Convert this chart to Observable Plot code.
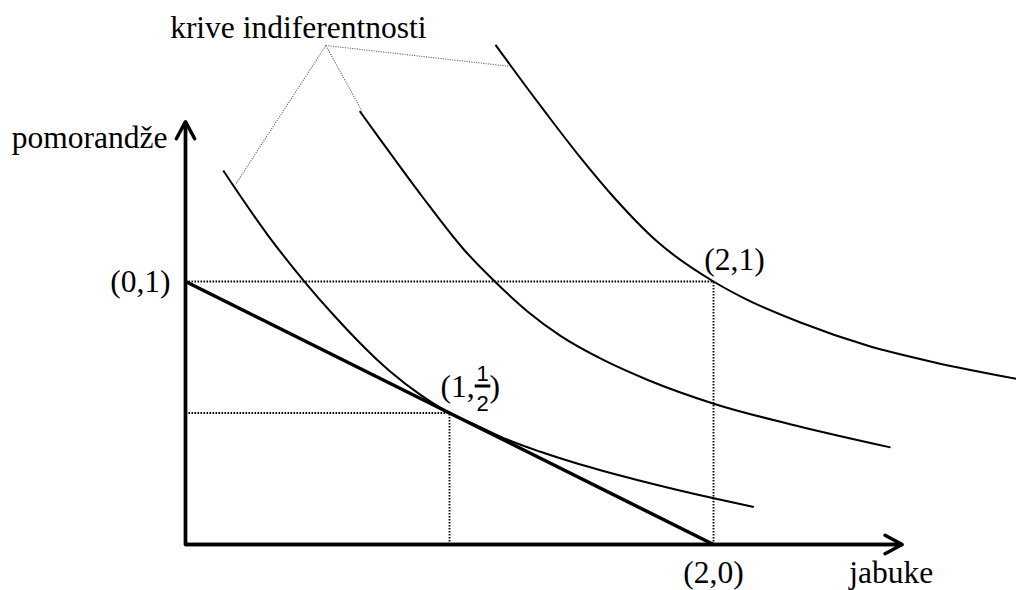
<!DOCTYPE html>
<html>
<head>
<meta charset="utf-8">
<script src="https://cdn.jsdelivr.net/npm/d3@7"></script>
<script src="https://cdn.jsdelivr.net/npm/@observablehq/plot@0.6"></script>
<style>
  html, body { margin: 0; padding: 0; background: #fff; }
  #chart svg { display: block; }
</style>
</head>
<body>
<div id="chart"></div>
<script>
// ---------- data ----------
// indifference curve 1 (tangent to the budget line at (1, 1/2))
const ic1X = [0.1428, 0.3095, 0.4481, 0.5617, 0.7197, 0.7765, 0.8902, 1.0, 1.1098, 1.2186, 1.3447, 1.4708, 1.5720, 1.7110, 2.0011, 2.1527];
const ic1Y = [1.4221, 1.1795, 1.0027, 0.8715, 0.7082, 0.6567, 0.5688, 0.5, 0.4494, 0.3992, 0.3525, 0.3118, 0.2825, 0.2456, 0.1757, 0.1422];
// indifference curve 2
const ic2X = [0.6602, 0.7386, 0.8966, 1.0542, 1.1678, 1.2943, 1.4205, 1.5845, 1.7489, 2.0011, 2.3295, 2.6705];
const ic2Y = [1.6475, 1.5388, 1.3232, 1.1217, 1.0038, 0.8871, 0.7932, 0.7008, 0.6266, 0.5354, 0.4479, 0.3692];
// indifference curve 3 (through (2, 1))
const ic3X = [1.1742, 1.2311, 1.3701, 1.4962, 1.6223, 1.7867, 2.0, 2.1148, 2.3295, 2.5822, 2.8345, 3.1477];
const ic3Y = [1.9000, 1.8213, 1.6342, 1.4707, 1.3202, 1.1517, 1.0, 0.9369, 0.8441, 0.7567, 0.6932, 0.6300];

// budget line
const budgetX = [0, 2];
const budgetY = [1, 0];

// axis extents (arrow tips)
const axisTipX = 2.715;
const axisTipY = 1.608;
const axisXLabel = "jabuke";
const axisYLabel = "pomorandže";

// labelled points
const pointX = [0, 2, 2];
const pointY = [1, 1, 0];
const pointLabels = ["(0,1)", "(2,1)", "(2,0)"];
// tangency point (1, 1/2)
const tangentX = 1;
const tangentY = 0.5;
const tangentLabel = ["(1,", "1", "2", ")"];

// annotation "krive indiferentnosti" with leader lines to each curve
const annotationText = "krive indiferentnosti";
const leaderApex = [0.5314, 1.8973];
const leaderEndX = [0.1894, 0.6693, 1.2235];
const leaderEndY = [1.3688, 1.6464, 1.8186];

// ---------- build tables ----------
const curves = [[ic1X, ic1Y], [ic2X, ic2Y], [ic3X, ic3Y]];
const curveRows = curves.flatMap(([xs, ys], k) => xs.map((x, i) => ({curve: k, x, y: ys[i]})));
const budgetRows = budgetX.map((x, i) => ({x, y: budgetY[i]}));
const guidePts = [{x: pointX[1], y: pointY[1]}, {x: tangentX, y: tangentY}];
const guideRows = guidePts.flatMap(p => [
  {x1: 0, y1: p.y, x2: p.x, y2: p.y},
  {x1: p.x, y1: 0, x2: p.x, y2: p.y}
]);
const leaderRows = leaderEndX.map((x, i) => ({x1: leaderApex[0], y1: leaderApex[1], x2: x, y2: leaderEndY[i]}));
const axisRows = [
  {x1: 0, y1: 0, x2: 0, y2: axisTipY},
  {x1: 0, y1: 0, x2: axisTipX, y2: 0}
];
const pointRows = pointX.map((x, i) => ({x, y: pointY[i], label: pointLabels[i]}));
const tangentRow = [{x: tangentX, y: tangentY}];

// fraction bar drawn as a custom symbol
const fractionBar = {draw(context) { context.rect(-7.8, -1.5, 15.6, 3); }};

// ---------- layout ----------
const W = 1016, H = 590;
const mL = 185, mB = 46;
const pxPerUnitX = 264, pxPerUnitY = 263;
const serif = "Liberation Serif";
const fs = 31.5;
const txt = {fontFamily: serif, fontSize: fs, fill: "black", lineAnchor: "bottom"};

const chart = Plot.plot({
  width: W,
  height: H,
  marginLeft: mL,
  marginRight: 0,
  marginTop: 0,
  marginBottom: mB,
  x: {domain: [0, (W - mL) / pxPerUnitX], axis: null},
  y: {domain: [0, (H - mB) / pxPerUnitY], axis: null},
  style: {background: "white", fontFamily: serif, fontSize: fs + "px", color: "black", overflow: "visible"},
  marks: [
    // dotted guides
    Plot.link(guideRows, {x1: "x1", y1: "y1", x2: "x2", y2: "y2", stroke: "black", strokeWidth: 1.8, strokeDasharray: "1.6,1.4", strokeLinecap: "butt"}),
    // leader lines
    Plot.link(leaderRows, {x1: "x1", y1: "y1", x2: "x2", y2: "y2", stroke: "#6e6e6e", strokeWidth: 1.1, strokeDasharray: "1.2,1.2", strokeLinecap: "butt"}),
    // budget line
    Plot.line(budgetRows, {x: "x", y: "y", stroke: "black", strokeWidth: 3.5, strokeLinecap: "butt"}),
    // indifference curves
    Plot.line(curveRows, {x: "x", y: "y", z: "curve", curve: "monotone-x", stroke: "black", strokeWidth: 2, strokeLinecap: "butt"}),
    // axes
    Plot.line([[0, axisTipY], [0, 0], [axisTipX, 0]], {stroke: "black", strokeWidth: 3.4, strokeLinejoin: "miter", strokeLinecap: "butt"}),
    Plot.arrow(axisRows, {x1: "x1", y1: "y1", x2: "x2", y2: "y2", stroke: "black", strokeWidth: 3.4, headLength: 8.6, headAngle: 56}),
    // axis labels
    Plot.text([axisYLabel], {...txt, x: () => 0, y: () => axisTipY, text: d => d, textAnchor: "end", dx: -18, dy: 26}),
    Plot.text([axisXLabel], {...txt, x: () => axisTipX, y: () => 0, text: d => d, textAnchor: "start", dx: -53, dy: 38}),
    // point labels
    Plot.text(pointRows.slice(0, 1), {...txt, x: "x", y: "y", text: "label", textAnchor: "end", dx: -15, dy: 10}),
    Plot.text(pointRows.slice(1, 2), {...txt, x: "x", y: "y", text: "label", textAnchor: "middle", dx: 21, dy: -11.5}),
    Plot.text(pointRows.slice(2, 3), {...txt, x: "x", y: "y", text: "label", textAnchor: "middle", dx: 0, dy: 38}),
    // tangency label (1, 1/2) with stacked fraction
    Plot.text(tangentRow, {...txt, x: "x", y: "y", text: () => tangentLabel[0], textAnchor: "start", dx: -9, dy: -16.5}),
    Plot.text(tangentRow, {...txt, x: "x", y: "y", text: () => tangentLabel[1], textAnchor: "middle", dx: 33, dy: -32.5, fontFamily: "Liberation Sans", fontSize: 22}),
    Plot.dot(tangentRow, {x: "x", y: "y", symbol: fractionBar, fill: "black", stroke: null, dx: 33, dy: -27}),
    Plot.text(tangentRow, {...txt, x: "x", y: "y", text: () => tangentLabel[2], textAnchor: "middle", dx: 33, dy: -2, fontFamily: "Liberation Sans", fontSize: 22}),
    Plot.text(tangentRow, {...txt, x: "x", y: "y", text: () => tangentLabel[3], textAnchor: "start", dx: 40, dy: -16.5}),
    // annotation
    Plot.text([annotationText], {...txt, x: () => leaderApex[0], y: () => leaderApex[1], text: d => d, textAnchor: "middle", dx: -27.5, dy: -7.7})
  ]
});
document.getElementById("chart").append(chart);
</script>
</body>
</html>
